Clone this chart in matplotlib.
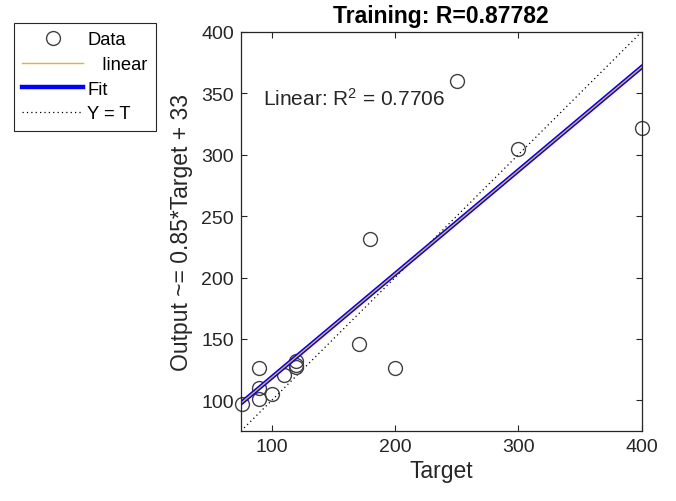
import matplotlib
matplotlib.use('Agg')
import matplotlib.pyplot as plt
import numpy as np

# ---- data ----
target = [76, 90, 90, 90, 100, 110, 120, 120, 120, 171, 180, 200, 250, 300, 400]
output = [97, 126, 110, 101, 105, 121, 132, 129, 127, 146, 231, 126, 360, 305, 322]
fit_slope = 0.842
fit_intercept = 34.5
axis_limits = [75, 400]
xticks = [100, 200, 300, 400]
yticks = [100, 150, 200, 250, 300, 350, 400]
title_text = "Training: R=0.87782"
xlabel_text = "Target"
ylabel_text = "Output ~= 0.85*Target + 33"
r2_text = r"Linear: R$^\mathrm{2}$ = 0.7706"
legend_labels = ["Data", "   linear", "Fit", "Y = T"]

plt.rcParams['font.family'] = ['Liberation Sans', 'DejaVu Sans']
plt.rcParams['mathtext.fontset'] = 'custom'
plt.rcParams['mathtext.rm'] = 'Liberation Sans'
plt.rcParams['mathtext.it'] = 'Liberation Sans:italic'
plt.rcParams['mathtext.bf'] = 'Liberation Sans:bold'

fig = plt.figure(figsize=(6.76, 5.02), dpi=100)
ax = fig.add_axes([0.3565, 0.1394, 0.5925, 0.795])

axc = '#262626'
h_data, = ax.plot(target, output, linestyle='none', marker='o', markersize=10,
                  markerfacecolor='none', markeredgecolor='#404040', markeredgewidth=1.0,
                  clip_on=False, zorder=3)
xs = np.array(axis_limits, dtype=float)
h_fit, = ax.plot(xs, fit_slope * xs + fit_intercept, color='#0000ff', linewidth=3.2, zorder=4)
h_lin, = ax.plot(xs, fit_slope * xs + fit_intercept, color='#EDB120', linewidth=1.0, zorder=5)
h_yt, = ax.plot(xs, xs, color='black', linestyle=(0, (1, 2.5)), linewidth=0.9, zorder=2)

ax.set_xlim(axis_limits)
ax.set_ylim(axis_limits)
ax.set_xticks(xticks)
ax.set_yticks(yticks)
ax.tick_params(direction='in', top=True, right=True, length=4, width=0.8,
               labelsize=14, colors=axc, pad=5)
for s in ax.spines.values():
    s.set_color(axc)
    s.set_linewidth(0.9)
    s.set_zorder(6)

ax.set_title(title_text, fontsize=16.5, fontweight='bold', color='black', pad=7)
ax.set_xlabel(xlabel_text, fontsize=16.5, color=axc, labelpad=3)
ax.set_ylabel(ylabel_text, fontsize=16.5, color=axc, labelpad=6)

ax.text(92.7, 340.3, r2_text, fontsize=15, color=axc, ha='left', va='baseline')

leg = fig.legend([h_data, h_lin, h_fit, h_yt], legend_labels,
                 loc='upper left', bbox_to_anchor=(14 / 676, 1 - 24 / 502),
                 bbox_transform=fig.transFigure, fontsize=13.2, frameon=True,
                 fancybox=False, framealpha=1, edgecolor=axc, handlelength=3.3,
                 handletextpad=0.25, borderpad=0.45, labelspacing=0.42,
                 borderaxespad=0)
leg.get_frame().set_linewidth(0.8)

fig.savefig('out.png', dpi=100)
